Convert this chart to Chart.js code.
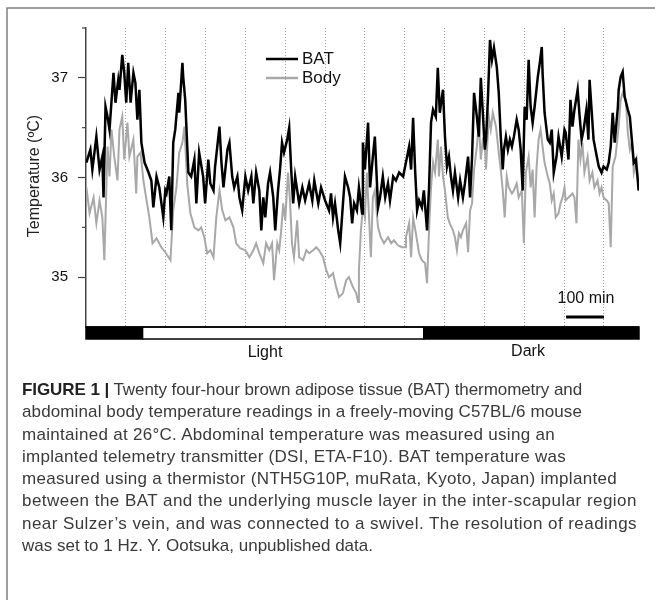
<!DOCTYPE html>
<html lang="en">
<head>
  <meta charset="UTF-8">
  <title>BAT and body temperature</title>
  <script src="https://cdn.jsdelivr.net/npm/chart.js@4.4.1/dist/chart.umd.min.js"></script>
  <style>
    body {
      margin: 0;
      padding: 0;
      background: #ffffff;
      font-family: 'Liberation Sans', Arial, sans-serif;
    }

    #wrap {
      position: relative;
      width: 655px;
      height: 600px;
      overflow: hidden;
    }

    #chart {
      position: absolute;
      left: 0;
      top: 0;
    }

    #caption {
      position: absolute;
      left: 22px;
      top: 379px;
      font-size: 17px;
      line-height: 22.3px;
      color: #3a3a3a;
      white-space: nowrap;
    }

    #caption div {
      display: table;
    }

    #caption b {
      color: #222;
    }
  </style>
</head>
<body>
  <div id="wrap">
    <canvas id="chart" width="655" height="600"></canvas>
    <div id="caption">
      <div><b>FIGURE 1 |</b> Twenty four-hour brown adipose tissue (BAT) thermometry and</div>
      <div>abdominal body temperature readings in a freely-moving C57BL/6 mouse</div>
      <div>maintained at 26°C. Abdominal temperature was measured using an</div>
      <div>implanted telemetry transmitter (DSI, ETA-F10). BAT temperature was</div>
      <div>measured using a thermistor (NTH5G10P, muRata, Kyoto, Japan) implanted</div>
      <div>between the BAT and the underlying muscle layer in the inter-scapular region</div>
      <div>near Sulzer’s vein, and was connected to a swivel. The resolution of readings</div>
      <div>was set to 1 Hz. Y. Ootsuka, unpublished data.</div>
    </div>
  </div>

  <script>
    // time in minutes from start of recording, temperatures in ºC
    const batTime = [1, 11, 16, 26, 34, 41, 44, 49, 54, 59, 69, 74, 81, 84, 91, 96, 101, 106, 112, 119, 124, 129, 134, 139, 147, 157, 164, 169, 177, 184, 194, 199,
      202, 209, 214, 219, 224, 232, 234, 242, 244, 249, 257, 264, 272, 277, 284, 294, 299, 307, 312, 320, 324, 335, 340, 345, 355, 360, 367, 372, 380, 385, 392, 400,
      407, 415, 420, 427, 435, 440, 445, 450, 457, 462, 470, 475, 482, 487, 492, 497, 505, 510, 515, 520, 525, 535, 543, 550, 560, 568, 573, 583, 590, 600,
      610, 615, 620, 625, 633, 638, 645, 650, 658, 663, 668, 673, 680, 685, 693, 695, 700, 708, 713, 720, 725, 733, 738, 745, 751, 758, 763, 771, 778, 786, 796, 801,
      811, 816, 821, 826, 831, 836, 843, 848, 856, 861, 866, 871, 878, 883, 888, 896, 901, 906, 911, 916, 921, 926, 934, 939, 946, 951, 959, 964, 969, 974, 981, 986, 991, 996, 1001,
      1004, 1009, 1014, 1019, 1024, 1031, 1036, 1041, 1046, 1049, 1054, 1059, 1064, 1069, 1074, 1081, 1086, 1091, 1096, 1101, 1106, 1111, 1116, 1121, 1126, 1134, 1139, 1144, 1146, 1151, 1159, 1164, 1169, 1174, 1181, 1186, 1194, 1201,
      1204, 1211, 1216, 1221, 1226, 1234, 1239, 1244, 1249, 1256, 1261, 1264, 1269, 1274, 1282, 1287, 1294, 1299, 1307, 1312, 1317, 1322, 1327, 1335, 1337, 1342, 1347, 1352, 1360, 1365, 1370, 1375, 1380, 1385, 1387];
    const batTemp = [36.15, 36.28, 36.08, 36.41, 36.08, 36.21, 35.80, 36.71, 36.61, 36.48, 37.05, 36.75, 36.98, 36.88, 37.23, 37.05, 36.75, 37.15, 36.75, 37.05, 36.95, 36.58, 36.88, 36.35, 36.15, 36.05, 35.97, 35.70, 36.01, 35.90, 35.60, 35.87,
      35.84, 36.01, 35.47, 36.35, 36.48, 36.85, 36.65, 37.15, 37.01, 36.78, 36.05, 36.01, 36.18, 35.74, 36.25, 36.01, 35.74, 36.18, 35.94, 35.87, 36.11, 36.51, 36.15, 35.90, 36.28, 36.35, 36.01, 35.90, 36.01, 35.80, 35.67, 36.01,
      35.87, 36.01, 35.74, 36.05, 35.87, 35.47, 35.80, 35.60, 35.94, 36.05, 35.80, 35.47, 35.87, 36.08, 36.35, 36.25, 36.38, 36.50, 36.08, 35.74, 36.01, 35.74, 35.90, 35.77, 35.94, 35.77, 35.97, 35.74, 35.90, 35.77,
      35.67, 35.84, 35.60, 35.74, 35.47, 35.34, 35.74, 36.01, 35.90, 35.80, 35.54, 35.74, 35.67, 35.90, 35.64, 36.35, 36.08, 36.55, 35.90, 36.21, 36.41, 35.70, 35.80, 36.01, 35.80, 35.94, 35.77, 36.01, 35.97, 36.05, 36.01, 36.11,
      36.31, 36.08, 36.60, 36.08, 35.67, 35.77, 35.70, 35.87, 35.47, 35.90, 36.55, 36.68, 36.61, 37.10, 36.65, 36.88, 36.41, 36.11, 36.21, 36.01, 35.87, 36.05, 35.80, 35.97, 35.80, 35.94, 36.21, 35.80, 36.21, 36.85, 36.61, 36.41, 37.00, 36.65, 36.28,
      36.38, 36.81, 37.38, 37.18, 37.30, 37.11, 36.85, 36.41, 36.08, 36.28, 36.41, 36.28, 36.38, 36.31, 36.41, 36.58, 36.48, 36.28, 35.87, 36.71, 36.58, 37.18, 36.71, 36.55, 36.71, 37.01, 37.15, 37.31, 37.05, 36.65, 36.38, 36.35, 36.48, 36.05, 36.21, 36.41, 36.21, 36.48,
      36.45, 36.18, 36.78, 36.51, 36.68, 36.88, 36.61, 36.38, 36.48, 36.68, 36.38, 36.98, 36.68, 36.38, 36.21, 36.11, 36.05, 36.11, 36.08, 36.15, 36.31, 36.65, 36.35, 36.71, 36.88, 37.01, 37.06, 36.81, 36.68, 36.61, 36.38, 36.15, 36.18, 35.97, 35.87];

    const bodyTime = [1, 9, 19, 26, 34, 41, 46, 54, 59, 64, 71, 79, 84, 91, 96, 104, 109, 119, 126, 129, 137, 144, 152, 159, 167, 177, 189, 199,
      212, 219, 227, 234, 242, 247, 254, 262, 272, 282, 289, 297, 304, 312, 320, 327, 335, 342, 350, 360, 370, 377, 387, 400,
      410, 420, 427, 435, 445, 452, 460, 467, 472, 480, 485, 490, 495, 500, 507, 512, 517, 522, 530, 535, 545, 553, 560, 570, 578, 585, 595, 603,
      610, 620, 628, 635, 645, 653, 660, 670, 678, 683, 685, 690, 695, 700, 705, 710, 715, 720, 725, 733, 740, 748, 758, 766, 773, 783, 793, 801,
      803, 811, 816, 821, 828, 836, 843, 851, 856, 861, 866, 871, 876, 883, 886, 891, 896, 901, 908, 913, 921, 926, 931, 936, 941, 946, 954, 959, 964, 969, 974, 981, 986, 991, 996, 1001,
      1004, 1011, 1016, 1021, 1029, 1036, 1041, 1046, 1051, 1056, 1061, 1069, 1074, 1081, 1086, 1094, 1099, 1104, 1111, 1116, 1121, 1126, 1131, 1136, 1141, 1146, 1151, 1159, 1164, 1169, 1174, 1179, 1186, 1191, 1196, 1201,
      1204, 1211, 1221, 1226, 1231, 1236, 1241, 1246, 1251, 1259, 1264, 1271, 1276, 1284, 1289, 1294, 1299, 1307, 1312, 1317, 1322, 1329, 1337, 1342, 1347, 1355, 1360, 1365, 1370, 1375, 1382, 1387];
    const bodyTemp = [35.90, 35.64, 35.80, 35.54, 35.77, 35.60, 35.17, 36.31, 36.01, 36.48, 36.21, 35.97, 36.48, 36.61, 36.18, 36.55, 36.21, 36.38, 35.84, 36.21, 36.25, 35.97, 35.77, 35.60, 35.34, 35.39, 35.30, 35.25,
      35.17, 35.67, 35.90, 36.25, 36.35, 36.51, 35.94, 35.64, 35.50, 35.47, 35.50, 35.40, 35.24, 35.27, 35.20, 35.60, 35.87, 35.67, 35.57, 35.60, 35.50, 35.34, 35.29, 35.27,
      35.20, 35.27, 35.34, 35.24, 35.14, 35.34, 35.27, 35.34, 34.97, 35.34, 35.27, 35.47, 35.74, 35.57, 36.05, 35.77, 35.34, 35.20, 35.57, 35.20, 35.17, 35.27, 35.24, 35.27, 35.30, 35.27, 35.20, 35.07,
      35.00, 35.04, 34.90, 34.80, 34.84, 34.97, 35.00, 34.90, 34.84, 34.75, 35.07, 35.47, 35.70, 35.60, 36.05, 35.64, 35.20, 35.80, 35.87, 35.50, 35.40, 35.34, 35.40, 35.34, 35.37, 35.32, 35.30, 35.30,
      35.40, 35.54, 35.20, 35.60, 35.44, 35.24, 35.17, 35.14, 34.94, 35.47, 35.90, 36.15, 36.05, 36.38, 36.01, 36.31, 36.01, 35.87, 35.60, 35.54, 35.47, 35.40, 35.27, 35.44, 35.40, 35.47, 35.54, 35.25, 35.67, 35.74, 36.08, 36.31, 36.55, 36.18, 36.38, 36.35,
      36.08, 36.61, 36.48, 36.65, 36.51, 36.25, 36.08, 35.87, 35.60, 36.01, 35.90, 35.84, 35.87, 35.94, 35.80, 35.87, 35.34, 36.05, 36.21, 35.90, 36.08, 35.60, 36.11, 36.38, 36.48, 36.31, 36.15, 36.01, 35.94, 35.77, 35.84, 35.60, 35.64, 35.74, 35.80, 35.90,
      35.77, 35.80, 35.84, 35.80, 35.54, 36.38, 36.18, 36.35, 36.05, 36.21, 35.97, 36.05, 35.90, 35.97, 35.84, 35.90, 35.80, 35.77, 35.74, 35.30, 36.11, 36.21, 36.51, 36.78, 36.85, 36.78, 36.45, 36.28, 36.35, 36.05, 36.18, 35.87];

    // light / dark phases (minutes)
    const phaseStart = [0, 142, 848];
    const phaseEnd = [142, 848, 1388];
    const phaseDark = [true, false, true];
    const phaseLabels = ['', 'Light', 'Dark'];

    const yTicks = [35, 36, 37];
    const scaleBarMinutes = [1205, 1300];

    const xMax = 1388;

    function toPoints(times, temps) {
      return times.map((t, i) => ({ x: t, y: temps[i] }));
    }

    // caption lines are stretched a little so they end where the printed ones do
    const captionRight = [582, 582, 555, 566, 617, 637, 637, 373];
    function fitCaption() {
      document.querySelectorAll('#caption div').forEach((line, i) => {
        const chars = line.textContent.length;
        const target = captionRight[i] - 22;
        let ls = 0;
        line.style.letterSpacing = '0px';
        for (let k = 0; k < 3; k++) {
          const w = line.getBoundingClientRect().width;
          ls += (target - w) / chars;
          line.style.letterSpacing = ls.toFixed(3) + 'px';
        }
      });
    }
    fitCaption();
    if (document.fonts && document.fonts.ready) document.fonts.ready.then(fitCaption);

    // extra drawing: frame, legend, light/dark bar, scale bar, axis title, minor ticks
    const extras = {
      id: 'extras',
      afterDraw(chart) {
        const ctx = chart.ctx;
        const xs = chart.scales.x;
        const ys = chart.scales.y;
        const area = chart.chartArea;
        ctx.save();

        // outer frame
        ctx.strokeStyle = '#808080';
        ctx.lineWidth = 1.5;
        ctx.beginPath();
        ctx.moveTo(7, 600);
        ctx.lineTo(7, 8);
        ctx.lineTo(655, 8);
        ctx.stroke();

        // minor ticks on y axis
        ctx.strokeStyle = '#444';
        ctx.lineWidth = 1.2;
        [35.5, 36.5, 37.5].forEach(v => {
          const y = ys.getPixelForValue(v);
          ctx.beginPath();
          ctx.moveTo(area.left - 4, y);
          ctx.lineTo(area.left, y);
          ctx.stroke();
        });

        // y title
        ctx.fillStyle = '#222';
        ctx.font = '16px "Liberation Sans", Arial, sans-serif';
        ctx.textAlign = 'center';
        ctx.textBaseline = 'middle';
        ctx.save();
        ctx.translate(35, 176);
        ctx.rotate(-Math.PI / 2);
        ctx.fillText('Temperature (ºC)', 0, 0);
        ctx.restore();

        // light / dark bar
        const barTop = area.bottom;
        const barH = 12;
        phaseStart.forEach((s, i) => {
          const x1 = xs.getPixelForValue(s);
          const x2 = xs.getPixelForValue(phaseEnd[i]);
          ctx.fillStyle = phaseDark[i] ? '#000' : '#fff';
          ctx.fillRect(x1, barTop, x2 - x1, barH);
          ctx.strokeStyle = '#000';
          ctx.lineWidth = 1.5;
          ctx.strokeRect(x1, barTop, x2 - x1, barH);
        });
        ctx.beginPath();
        ctx.lineWidth = 1.5;
        ctx.moveTo(area.left, barTop);
        ctx.lineTo(area.right, barTop);
        ctx.stroke();

        ctx.fillStyle = '#111';
        ctx.font = '16px "Liberation Sans", Arial, sans-serif';
        ctx.textAlign = 'center';
        ctx.textBaseline = 'middle';
        ctx.fillText(phaseLabels[1], 265, 353);
        ctx.fillText(phaseLabels[2], 528, 352);

        // scale bar
        const sx1 = xs.getPixelForValue(scaleBarMinutes[0]);
        const sx2 = xs.getPixelForValue(scaleBarMinutes[1]);
        ctx.fillStyle = '#000';
        ctx.fillRect(sx1, 315.5, sx2 - sx1, 3);
        ctx.fillStyle = '#111';
        ctx.fillText('100 min', (sx1 + sx2) / 2 + 1, 299);

        // legend
        ctx.lineWidth = 2.5;
        ctx.strokeStyle = '#000';
        ctx.beginPath();
        ctx.moveTo(266, 59);
        ctx.lineTo(298, 59);
        ctx.stroke();
        ctx.strokeStyle = '#a8a8a8';
        ctx.beginPath();
        ctx.moveTo(266, 78);
        ctx.lineTo(298, 78);
        ctx.stroke();
        ctx.fillStyle = '#111';
        ctx.font = '17px "Liberation Sans", Arial, sans-serif';
        ctx.textAlign = 'left';
        ctx.fillText('BAT', 302, 59);
        ctx.fillText('Body', 302, 78);

        ctx.restore();
      }
    };

    const ctx = document.getElementById('chart').getContext('2d');
    new Chart(ctx, {
      type: 'line',
      data: {
        datasets: [
          {
            label: 'BAT',
            data: toPoints(batTime, batTemp),
            borderColor: '#000000',
            borderWidth: 2.5,
            pointRadius: 0,
            tension: 0
          },
          {
            label: 'Body',
            data: toPoints(bodyTime, bodyTemp),
            borderColor: '#a8a8a8',
            borderWidth: 2,
            pointRadius: 0,
            tension: 0
          }
        ]
      },
      options: {
        responsive: false,
        animation: false,
        events: [],
        layout: {
          padding: { left: 0, top: 28, right: 16, bottom: 273 }
        },
        plugins: {
          legend: { display: false },
          tooltip: { enabled: false }
        },
        scales: {
          x: {
            type: 'linear',
            min: 0,
            max: xMax,
            afterFit(scale) { scale.height = 0; },
            ticks: { display: false, stepSize: 100, includeBounds: false },
            border: { display: false, dash: [1, 2] },
            grid: {
              drawTicks: false,
              lineWidth: 1,
              color: c => (c.tick && c.tick.value > 0 && c.tick.value < xMax) ? '#9a9a9a' : 'rgba(0,0,0,0)'
            }
          },
          y: {
            min: 34.5,
            max: 37.5,
            afterFit(scale) { scale.width = 86; },
            afterBuildTicks(scale) {
              scale.ticks = [34.5, 35, 35.5, 36, 36.5, 37, 37.5].map(v => ({ value: v }));
            },
            ticks: {
              padding: 10,
              color: '#111',
              font: { family: '"Liberation Sans", Arial, sans-serif', size: 15 },
              callback: v => yTicks.includes(v) ? String(v) : ''
            },
            border: { display: true, color: '#444', width: 1.5 },
            grid: {
              drawOnChartArea: false,
              tickLength: 8,
              tickWidth: 1.2,
              tickColor: c => (c.tick && yTicks.includes(c.tick.value)) ? '#444' : 'rgba(0,0,0,0)'
            }
          }
        }
      },
      plugins: [extras]
    });
  </script>
</body>
</html>
